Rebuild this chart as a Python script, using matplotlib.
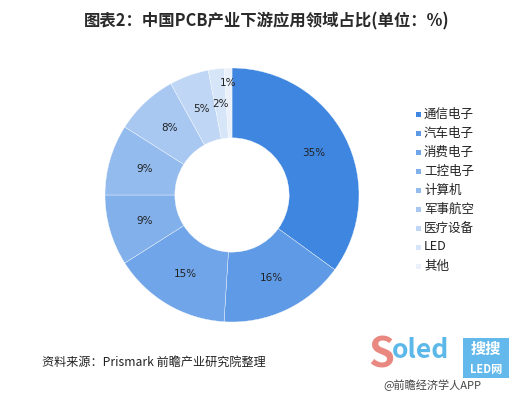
import matplotlib
matplotlib.use("Agg")
import matplotlib.pyplot as plt
from matplotlib.patches import Rectangle
import numpy as np

plt.rcParams['font.family'] = ['Noto Sans CJK SC', 'DejaVu Sans']

categories = ["通信电子", "汽车电子", "消费电子", "工控电子", "计算机", "军事航空", "医疗设备", "LED", "其他"]
values = [35, 16, 15, 9, 9, 8, 5, 2, 1]
labels = ["35%", "16%", "15%", "9%", "9%", "8%", "5%", "2%", "1%"]
colors = ["#3F86E0", "#5F9AE6", "#70A5E9", "#82B0EB", "#93BBEE", "#A8C8F2", "#BFD6F5", "#D6E5F8", "#EAF1FA"]

W, H = 523, 398
fig = plt.figure(figsize=(W / 100, H / 100), dpi=100)
fig.patch.set_facecolor("white")

cx, cy, R = 232, 195, 127
ax = fig.add_axes([(cx - R) / W, (H - cy - R) / H, 2 * R / W, 2 * R / H])
wedges, _ = ax.pie(values, colors=colors, startangle=90, counterclock=False,
                   radius=1.0, wedgeprops=dict(width=0.55, edgecolor="white", linewidth=0.25))
ang = 90.0
for v, lab in zip(values, labels):
    mid = ang - v / 100 * 360 / 2
    ang -= v / 100 * 360
    r = 0.72
    if v == 1:
        r = 0.88
    ax.text(r * np.cos(np.radians(mid)), r * np.sin(np.radians(mid)), lab,
            ha="center", va="center", fontsize=7.5, color="#222222", family="DejaVu Sans")
ax.set_xlim(-1, 1)
ax.set_ylim(-1, 1)
ax.set_aspect("equal")
ax.axis("off")

fig.text(267 / W, 1 - 21 / H, "图表2：中国PCB产业下游应用领域占比(单位：%)", ha="center", va="center",
         fontsize=11.8, fontweight="bold", color="#2A2A2A")

# legend
y0 = 114
for i, (c, name) in enumerate(zip(colors, categories)):
    y = y0 + i * 19
    fig.patches.append(Rectangle((416 / W, 1 - (y + 3) / H), 5 / W, 5 / H,
                                 transform=fig.transFigure, facecolor=c, edgecolor="none"))
    fig.text(424 / W, 1 - y / H, name, ha="left", va="center", fontsize=9, color="#222222")

fig.text(42 / W, 1 - 362 / H, "资料来源：Prismark 前瞻产业研究院整理", ha="left", va="center",
         fontsize=8.7, color="#222222")

# logo approximation
fig.text(368 / W, 1 - 355 / H, "S", ha="left", va="center", fontsize=30, fontweight="bold",
         fontstyle="italic", color="#E8827A", alpha=0.95)
fig.text(392 / W, 1 - 351 / H, "oled", ha="left", va="center", fontsize=19, fontweight="bold",
         color="#5DB8EA")
fig.patches.append(Rectangle((463 / W, 1 - 378 / H), 46 / W, 40 / H, transform=fig.transFigure,
                             facecolor="#63B9EC", edgecolor="none"))
fig.text(486 / W, 1 - 349 / H, "搜搜", ha="center", va="center", fontsize=11, fontweight="bold", color="white")
fig.text(486 / W, 1 - 370 / H, "LED网", ha="center", va="center", fontsize=8, fontweight="bold", color="white")
fig.text(383 / W, 1 - 385 / H, "@前瞻经济学人APP", ha="left", va="center", fontsize=8, color="#444444")

fig.savefig("out.png", dpi=100)
